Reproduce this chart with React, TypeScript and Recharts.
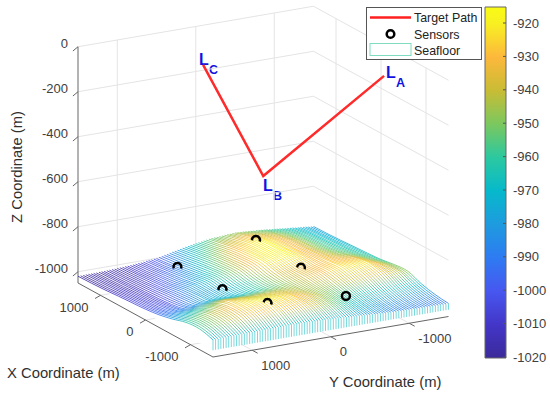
import React from 'react';
import { ComposedChart, Area, Line, Scatter, XAxis, YAxis, ReferenceArea, Legend } from 'recharts';

const xTicks = [1000, 0, -1000];
const yTicks = [1000, 0, -1000];
const zTicks = [0, -200, -400, -600, -800, -1000];
const barTicks = [-920, -930, -940, -950, -960, -970, -980, -990, -1000, -1010, -1020];

// target path corners, x / y / z in metres
const pathPoints = [
  [-330, -1350, -100],
  [0, 0, -500],
  [970, 210, -100],
];

// sensor positions, x / y / z in metres
const backSensors = [
  [1000, -480, -923],
  [0, -480, -937],
];
const frontSensors = [
  [1000, 520, -983],
  [0, 520, -972],
  [-1000, 520, -924],
];
const clearSensors = [[-1000, -480, -952]];

// seafloor: one row per stripe (constant y), depth below surface at each station in x
const stationXs = [1500, 1200, 900, 600, 300, 0, -300, -600, -900, -1200, -1500];
const rowYs = [
  -1500, -1467, -1433, -1400, -1367, -1333, -1300, -1267, -1233, -1200,
  -1167, -1133, -1100, -1067, -1033, -1000, -967, -933, -900, -867,
  -833, -800, -767, -733, -700, -667, -633, -600, -567, -533,
  -500, -467, -433, -400, -367, -333, -300, -267, -233, -200,
  -167, -133, -100, -67, -33, 0, 33, 67, 100, 133,
  167, 200, 233, 267, 300, 333, 367, 400, 433, 467,
  500, 533, 567, 600, 633, 667, 700, 733, 767, 800,
  833, 867, 900, 933, 967, 1000, 1033, 1067, 1100, 1133,
  1167, 1200, 1233, 1267, 1300, 1333, 1367, 1400, 1433, 1467, 1500,
];
const rowDepths = [
  [979, 977, 974, 970, 966, 961, 951, 948, 971, 985, 992],
  [978, 975, 972, 968, 964, 958, 949, 947, 970, 985, 992],
  [977, 974, 971, 967, 962, 956, 946, 946, 970, 985, 992],
  [975, 972, 969, 966, 961, 953, 943, 943, 969, 985, 991],
  [974, 970, 967, 964, 959, 951, 940, 942, 969, 985, 991],
  [973, 969, 966, 963, 957, 948, 938, 941, 968, 985, 991],
  [972, 967, 964, 961, 955, 945, 934, 940, 967, 985, 991],
  [971, 965, 962, 960, 953, 942, 932, 939, 967, 985, 991],
  [969, 963, 960, 958, 952, 939, 929, 936, 966, 985, 990],
  [968, 962, 959, 957, 950, 936, 926, 935, 966, 985, 990],
  [967, 960, 957, 955, 948, 933, 922, 934, 965, 985, 990],
  [966, 958, 955, 953, 947, 933, 922, 934, 965, 985, 990],
  [965, 956, 953, 951, 945, 932, 922, 935, 965, 984, 990],
  [963, 955, 950, 949, 943, 932, 922, 935, 965, 984, 989],
  [962, 953, 948, 947, 941, 931, 922, 936, 965, 984, 989],
  [961, 951, 946, 945, 940, 931, 922, 936, 965, 984, 989],
  [960, 949, 943, 942, 939, 930, 922, 936, 964, 983, 989],
  [959, 947, 941, 940, 936, 930, 922, 938, 964, 983, 989],
  [957, 946, 938, 938, 935, 929, 922, 938, 964, 983, 988],
  [956, 943, 935, 935, 933, 929, 922, 939, 964, 982, 988],
  [955, 941, 933, 933, 932, 927, 922, 939, 964, 982, 988],
  [954, 940, 932, 932, 931, 929, 924, 940, 963, 981, 987],
  [953, 939, 930, 930, 930, 929, 925, 940, 963, 980, 987],
  [953, 938, 929, 929, 929, 930, 925, 941, 962, 978, 986],
  [952, 936, 927, 926, 927, 930, 926, 941, 962, 977, 986],
  [951, 935, 925, 925, 925, 931, 927, 941, 961, 976, 985],
  [950, 934, 924, 924, 924, 932, 929, 942, 960, 975, 984],
  [949, 933, 922, 921, 922, 932, 930, 943, 960, 974, 984],
  [949, 932, 920, 920, 921, 933, 930, 943, 959, 972, 983],
  [948, 931, 919, 918, 920, 933, 931, 945, 959, 971, 983],
  [947, 930, 918, 917, 919, 934, 932, 945, 958, 970, 982],
  [948, 931, 919, 918, 919, 934, 933, 945, 956, 968, 981],
  [949, 932, 920, 918, 919, 934, 934, 945, 955, 966, 981],
  [949, 933, 921, 919, 920, 935, 935, 945, 953, 964, 980],
  [950, 934, 922, 919, 920, 935, 936, 945, 952, 962, 979],
  [951, 936, 924, 920, 920, 935, 939, 945, 950, 960, 979],
  [952, 938, 925, 921, 920, 935, 940, 945, 948, 958, 978],
  [953, 939, 926, 921, 920, 935, 941, 945, 947, 956, 977],
  [953, 940, 927, 922, 921, 936, 942, 945, 945, 954, 976],
  [954, 941, 929, 922, 921, 936, 943, 945, 943, 952, 976],
  [955, 942, 930, 924, 921, 936, 945, 945, 941, 950, 975],
  [957, 945, 932, 926, 924, 939, 946, 945, 940, 949, 975],
  [959, 947, 935, 929, 926, 941, 948, 943, 938, 947, 974],
  [961, 950, 938, 931, 929, 944, 949, 943, 936, 946, 974],
  [963, 952, 940, 933, 931, 946, 950, 942, 934, 943, 973],
  [965, 954, 943, 936, 934, 948, 952, 942, 933, 942, 973],
  [967, 956, 946, 939, 936, 950, 953, 941, 932, 940, 972],
  [969, 958, 948, 941, 939, 952, 954, 941, 930, 939, 972],
  [971, 961, 950, 943, 941, 954, 955, 940, 929, 936, 971],
  [973, 963, 953, 946, 943, 956, 957, 940, 926, 935, 971],
  [975, 965, 955, 948, 946, 958, 958, 939, 925, 933, 970],
  [978, 968, 958, 951, 948, 960, 959, 939, 925, 933, 970],
  [980, 971, 961, 953, 950, 961, 960, 939, 924, 932, 970],
  [983, 974, 964, 956, 952, 963, 962, 940, 924, 932, 969],
  [985, 977, 967, 959, 954, 965, 963, 940, 922, 931, 969],
  [988, 980, 970, 961, 956, 966, 964, 940, 922, 931, 969],
  [991, 983, 973, 964, 958, 968, 965, 940, 921, 930, 969],
  [993, 986, 976, 967, 960, 970, 966, 940, 921, 930, 969],
  [996, 989, 979, 970, 962, 972, 968, 941, 920, 929, 968],
  [998, 992, 982, 972, 964, 973, 969, 941, 920, 929, 968],
  [1001, 995, 985, 975, 966, 975, 970, 941, 919, 927, 968],
  [1002, 996, 987, 977, 968, 976, 970, 941, 919, 927, 968],
  [1003, 998, 988, 979, 970, 976, 970, 940, 920, 929, 968],
  [1004, 999, 990, 981, 972, 977, 971, 940, 920, 929, 969],
  [1005, 1000, 992, 983, 974, 977, 971, 939, 921, 930, 969],
  [1007, 1002, 994, 986, 976, 978, 971, 939, 921, 930, 969],
  [1008, 1003, 995, 988, 977, 978, 971, 939, 921, 930, 969],
  [1009, 1004, 997, 990, 979, 979, 971, 938, 922, 931, 969],
  [1010, 1005, 999, 992, 981, 979, 972, 938, 922, 931, 970],
  [1011, 1007, 1000, 994, 983, 980, 972, 936, 924, 932, 970],
  [1012, 1008, 1002, 996, 985, 980, 972, 936, 924, 932, 970],
  [1013, 1009, 1003, 997, 987, 982, 974, 939, 926, 933, 970],
  [1013, 1010, 1004, 999, 989, 984, 975, 941, 927, 934, 970],
  [1014, 1010, 1005, 1000, 992, 986, 977, 945, 930, 935, 971],
  [1014, 1011, 1006, 1002, 994, 988, 978, 947, 931, 936, 971],
  [1015, 1012, 1008, 1003, 996, 990, 980, 949, 933, 939, 971],
  [1016, 1013, 1009, 1004, 998, 993, 982, 951, 934, 940, 971],
  [1016, 1014, 1010, 1006, 1000, 995, 983, 953, 936, 941, 971],
  [1017, 1014, 1011, 1007, 1003, 997, 985, 956, 938, 942, 972],
  [1017, 1015, 1012, 1009, 1005, 999, 986, 958, 940, 943, 972],
  [1018, 1016, 1013, 1010, 1007, 1001, 988, 960, 941, 945, 972],
  [1018, 1016, 1013, 1010, 1007, 1001, 989, 962, 943, 946, 972],
  [1018, 1016, 1013, 1010, 1007, 1001, 989, 964, 946, 948, 972],
  [1019, 1017, 1014, 1010, 1007, 1001, 990, 966, 948, 949, 973],
  [1019, 1017, 1014, 1010, 1007, 1001, 990, 968, 950, 950, 973],
  [1019, 1017, 1014, 1010, 1007, 1002, 991, 970, 952, 952, 973],
  [1019, 1017, 1014, 1010, 1006, 1002, 992, 972, 954, 953, 973],
  [1019, 1017, 1014, 1010, 1006, 1002, 992, 974, 956, 954, 973],
  [1020, 1018, 1015, 1010, 1006, 1002, 993, 976, 958, 955, 974],
  [1020, 1018, 1015, 1010, 1006, 1002, 993, 978, 960, 957, 974],
  [1020, 1018, 1015, 1010, 1006, 1002, 994, 980, 962, 958, 974],
];

const colormapZ = [-1020, -1010, -1000, -990, -980, -970, -960, -950, -940, -930, -920, -915];
const colormapHex = ['#3b2a9a', '#4336c8', '#4757f0', '#2e7bf2', '#1e9bdf', '#06b9cb', '#2cc8a0', '#7bc85e', '#c9bc35', '#fdb83c', '#f8f022', '#f9fb15'];

const W = 550;
const H = 398;
const FLOOR = -1050;
const SURFACE_MIN = -1020;
const FONT = '"Liberation Sans", Arial, sans-serif';

// fixed 3D view of the MATLAB axes onto the plane of the chart's x/y scales
const project = (x: number, y: number, z: number) => {
  const u = (x + 1500) / 1000;
  const w = (1500 - y) / 1000;
  return {
    px: 213 + 78.5 * w - 45 * u,
    py: 357 - 13.5 * w - 24.67 * u - 0.225 * (z - FLOOR),
  };
};

const hexRgb = (h: string) => [1, 3, 5].map((i) => parseInt(h.slice(i, i + 2), 16));
const colorOf = (z: number) => {
  let i = 0;
  while (i < colormapZ.length - 2 && z > colormapZ[i + 1]) i++;
  const t = Math.max(0, Math.min(1, (z - colormapZ[i]) / (colormapZ[i + 1] - colormapZ[i])));
  const a = hexRgb(colormapHex[i]);
  const b = hexRgb(colormapHex[i + 1]);
  return `rgb(${a.map((v, k) => Math.round(v + (b[k] - v) * t)).join(',')})`;
};

// several [from, to] segments as one series, broken with nulls
const segments = (pairs: number[][][]) =>
  pairs.flatMap(([a, b]) => {
    const p = project(a[0], a[1], a[2]);
    const q = project(b[0], b[1], b[2]);
    return [p, q, { px: q.px, py: null as any }];
  });

const gridSegments = segments([
  ...zTicks.flatMap((z) => [
    [[1500, 1500, z], [1500, -1500, z]],
    [[1500, -1500, z], [-1500, -1500, z]],
  ]),
  ...yTicks.flatMap((y) => [
    [[1500, y, FLOOR], [1500, y, 0]],
    [[1500, y, FLOOR], [-1500, y, FLOOR]],
  ]),
  ...xTicks.flatMap((x) => [
    [[x, -1500, FLOOR], [x, -1500, 0]],
    [[x, 1500, FLOOR], [x, -1500, FLOOR]],
  ]),
]);

const axisSegments = segments([
  [[1500, 1500, 0], [1500, 1500, FLOOR]],
  [[1500, 1500, FLOOR], [-1500, 1500, FLOOR]],
  [[-1500, 1500, FLOOR], [-1500, -1500, FLOOR]],
  ...zTicks.map((z) => [[1500, 1565, z - 15], [1500, 1500, z]]),
  ...xTicks.map((x) => [[x, 1570, FLOOR - 10], [x, 1500, FLOOR]]),
  ...yTicks.map((y) => [[-1620, y, FLOOR], [-1500, y, FLOOR]]),
]);

const rows = rowYs.map((y, i) => ({
  y,
  points: stationXs.map((x, k) => {
    const top = project(x, y, -rowDepths[i][k]);
    const base = project(x, y, SURFACE_MIN);
    return { px: top.px, py: top.py, base: base.py };
  }),
}));

const skirt = rows.flatMap((r) => {
  const end = r.points[r.points.length - 1];
  return [{ px: end.px, py: end.py }, { px: end.px, py: end.base }, { px: end.px, py: null as any }];
});

const toPoints = (list: number[][]) => list.map(([x, y, z]) => project(x, y, z));
const pathSeries = toPoints(pathPoints);

const barY = (z: number) => 357 - (z + 1020) * 3.34;
const barTickSegments = barTicks.flatMap((z) => [
  { px: 503, py: barY(z) },
  { px: 506, py: barY(z) },
  { px: 506, py: null as any },
]);

const xLabels = xTicks.map((v) => ({ ...project(v, 1500, FLOOR), label: String(v) }));
const yLabels = yTicks.map((v) => ({ ...project(-1500, v, FLOOR), label: String(v) }));
const zLabels = zTicks.map((v) => ({ ...project(1500, 1500, v), label: String(v) }));
const barLabels = barTicks.map((v) => ({ px: 513, py: barY(v), label: String(v) }));

const tickText = (dx: number, dy: number, anchor: string) => (p: any) => (
  <text
    x={p.cx + dx}
    y={p.cy + dy}
    textAnchor={anchor}
    dominantBaseline="central"
    fontFamily={FONT}
    fontSize={13}
    fill="#404040"
  >
    {p.payload.label}
  </text>
);

const sensorRing = (p: any) => <circle cx={p.cx} cy={p.cy} r={4} fill="none" stroke="#000" strokeWidth={2.5} />;

// buried sensors: the surface hides the lower part of the ring
const sensorArc = (p: any) => (
  <path
    d={`M${p.cx - 3.7} ${p.cy + 1.5}A4 4 0 1 1 ${p.cx + 3.7} ${p.cy + 1.5}`}
    fill="none"
    stroke="#000"
    strokeWidth={2.5}
  />
);

const LegendBox = () => (
  <svg width={116} height={53} style={{ display: 'block' }}>
    <rect x={0.5} y={0.5} width={115} height={52} fill="#fff" stroke="#555" />
    <line x1={4} x2={45} y1={10.5} y2={10.5} stroke="#ff1f1f" strokeWidth={2.5} />
    <circle cx={24.5} cy={27} r={3.8} fill="none" stroke="#000" strokeWidth={2.5} />
    <rect x={4} y={36.5} width={41} height={12} fill="#fff" stroke="#7fdcc0" />
    <g fontFamily={FONT} fontSize={12.4} fill="#222">
      <text x={48} y={15}>Target Path</text>
      <text x={48} y={32}>Sensors</text>
      <text x={48} y={48}>Seafloor</text>
    </g>
  </svg>
);

const PointLabel = ({ x, y, sub }: { x: number; y: number; sub: string }) => (
  <g fontFamily={FONT} fontWeight="bold" fill="#1212e0">
    <text x={x} y={y} fontSize={16}>L</text>
    <text x={x + 10} y={y + 9} fontSize={12.5}>{sub}</text>
  </g>
);

export default function App() {
  const sensorRow = (list: number[][]) => rowYs.findIndex((y) => y >= list[0][1]);
  const backRow = sensorRow(backSensors);
  const frontRow = sensorRow(frontSensors);

  return (
    <div style={{ position: 'absolute', left: 0, top: 0, width: W, height: H, background: '#fff' }}>
      <ComposedChart width={W} height={H} margin={{ top: 0, right: 0, bottom: 0, left: 0 }}>
        <defs>
          <linearGradient id="colorbar" x1="0" y1="1" x2="0" y2="0">
            {colormapZ.map((z, i) => (
              <stop key={z} offset={(z + 1020) / 105} stopColor={colormapHex[i]} />
            ))}
          </linearGradient>
          {rows.map((r, i) => (
            <linearGradient key={r.y} id={`row-${i}`} x1="0" y1="0" x2="1" y2="0">
              {rowDepths[i].map((d, k) => (
                <stop key={k} offset={k / (stationXs.length - 1)} stopColor={colorOf(-d)} />
              ))}
            </linearGradient>
          ))}
        </defs>
        <XAxis type="number" dataKey="px" domain={[0, W]} hide />
        <YAxis type="number" dataKey="py" domain={[0, H]} reversed hide />

        <Line data={gridSegments} dataKey="py" stroke="#e4e4e4" strokeWidth={1} dot={false} activeDot={false} isAnimationActive={false} zIndex={1} />
        <Line data={axisSegments} dataKey="py" stroke="#666" strokeWidth={1} dot={false} activeDot={false} isAnimationActive={false} zIndex={2} />

        {rows.flatMap((r, i) => {
          const items = [
            <Area
              key={`face-${i}`}
              type="monotone"
              data={r.points}
              dataKey={(d: any) => [d.base, d.py]}
              fill="#fff"
              fillOpacity={1}
              stroke="none"
              dot={false}
              activeDot={false}
              isAnimationActive={false}
              zIndex={10 + i * 3}
            />,
            <Line
              key={`row-${i}`}
              type="monotone"
              data={r.points}
              dataKey="py"
              stroke={`url(#row-${i})`}
              strokeWidth={0.9}
              strokeOpacity={0.9}
              dot={false}
              activeDot={false}
              isAnimationActive={false}
              zIndex={11 + i * 3}
            />,
          ];
          if (i === backRow || i === frontRow) {
            items.push(
              <Scatter
                key={`sensors-${i}`}
                data={toPoints(i === backRow ? backSensors : frontSensors)}
                shape={sensorArc}
                isAnimationActive={false}
                zIndex={12 + i * 3}
              />
            );
          }
          return items;
        })}

        <Scatter data={toPoints(clearSensors)} shape={sensorRing} isAnimationActive={false} zIndex={399} />
        <Line data={skirt} dataKey="py" stroke="#62d2d6" strokeWidth={1} strokeOpacity={0.85} dot={false} activeDot={false} isAnimationActive={false} zIndex={400} />
        <Line data={pathSeries} dataKey="py" stroke="#ff2a2a" strokeWidth={2.5} dot={false} activeDot={false} isAnimationActive={false} zIndex={410} />

        <ReferenceArea x1={485} x2={506} y1={7} y2={358} fill="url(#colorbar)" fillOpacity={1} stroke="#666" />
        <Line data={barTickSegments} dataKey="py" stroke="#555" strokeWidth={1} dot={false} activeDot={false} isAnimationActive={false} zIndex={420} />

        <Scatter data={xLabels} shape={tickText(-12, 12, 'end')} isAnimationActive={false} zIndex={430} />
        <Scatter data={yLabels} shape={tickText(9, 15, 'start')} isAnimationActive={false} zIndex={430} />
        <Scatter data={zLabels} shape={tickText(-10, -3, 'end')} isAnimationActive={false} zIndex={430} />
        <Scatter data={barLabels} shape={tickText(0, 0, 'start')} isAnimationActive={false} zIndex={430} />

        <g fontFamily={FONT} fontSize={14.8} fill="#303030">
          <text x={7} y={378}>X Coordinate (m)</text>
          <text x={329} y={387}>Y Coordinate (m)</text>
          <text x={22} y={167} textAnchor="middle" transform="rotate(-90 22 167)">Z Coordinate (m)</text>
        </g>
        <PointLabel x={386} y={78} sub="A" />
        <PointLabel x={263} y={191} sub="B" />
        <PointLabel x={199} y={65} sub="C" />

        <Legend
          layout="vertical"
          align="center"
          verticalAlign="middle"
          wrapperStyle={{ left: 366, top: 7, width: 116, height: 53 }}
          content={LegendBox}
        />
      </ComposedChart>
    </div>
  );
}
